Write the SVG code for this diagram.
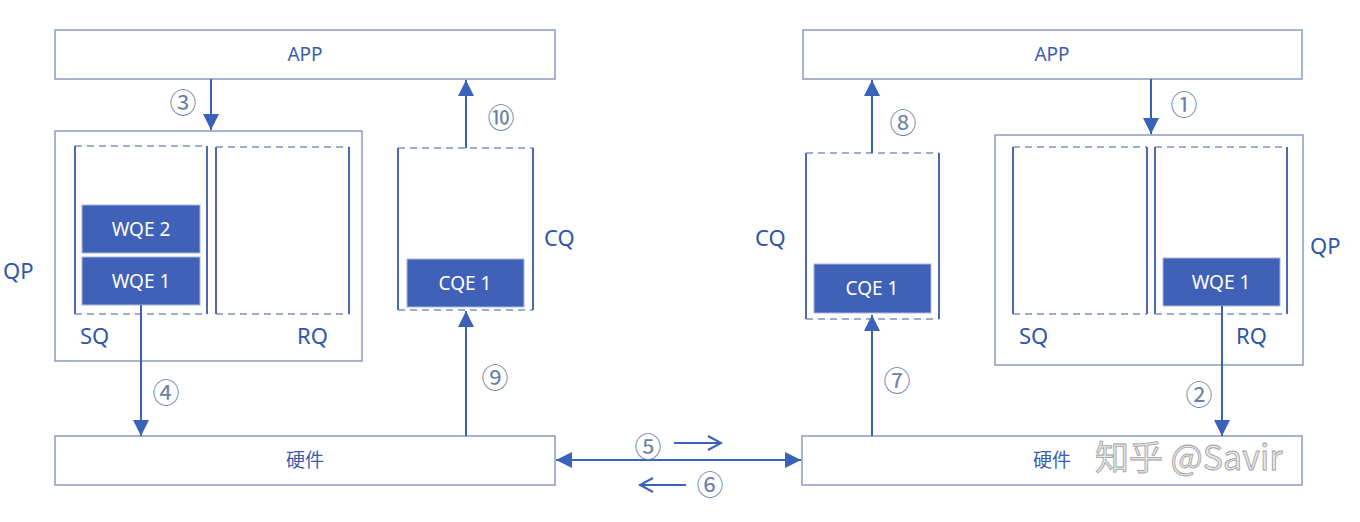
<svg xmlns="http://www.w3.org/2000/svg" width="1360" height="522" viewBox="0 0 1360 522">
<style>
.box{fill:#fff;stroke:#8a9cc2;stroke-width:1.5}
.side{stroke:#4a6bb3;stroke-width:2;fill:none}
.dash{stroke:#7f93c0;stroke-width:1.6;stroke-dasharray:7 5;fill:none}
.fill{fill:#3f62b8;stroke:#a9b8dc;stroke-width:1}
.ft{fill:#fff;font-family:"Noto Sans","Noto Sans CJK SC",sans-serif;font-size:19px;text-anchor:middle}
.lbl{fill:#2f56a8;font-family:"Noto Sans","Noto Sans CJK SC",sans-serif;font-size:22px}
.bt{fill:#3b5eae;font-family:"Noto Sans","Noto Sans CJK SC",sans-serif;font-size:19px;text-anchor:middle}
.num{fill:#6d80a8;font-family:"Noto Sans CJK SC","DejaVu Sans",sans-serif;font-size:27px;text-anchor:middle}
.ln{stroke:#3a62b8;stroke-width:2;fill:none}
.wm{font-family:"Noto Sans CJK SC","Noto Sans",sans-serif;font-size:34px;fill:#e6e6e6;stroke:#a0a0a0;stroke-width:0.8}
</style>
<defs>
<marker id="ah2" viewBox="0 0 10 10" refX="10" refY="5" markerWidth="16" markerHeight="16" orient="auto-start-reverse" markerUnits="userSpaceOnUse">
<path d="M0,0 L10,5 L0,10 z" fill="#3a62b8"/>
</marker>
</defs>

<g id="app-left"><rect class="box" x="55" y="30" width="500" height="49"/><text class="bt" x="305" y="61">APP</text></g>
<g id="app-right"><rect class="box" x="803" y="30" width="499" height="49"/><text class="bt" x="1052" y="61">APP</text></g>
<g id="hw-left"><rect class="box" x="55" y="436" width="500" height="49"/><text class="bt" x="305" y="467">硬件</text></g>
<g id="hw-right"><rect class="box" x="802" y="436" width="500" height="49"/><text class="bt" x="1052" y="467">硬件</text></g>

<g id="qp-left">
<rect class="box" x="55" y="131" width="307" height="230"/>
<text class="lbl" x="3" y="279">QP</text>
<g id="sq-left">
<path class="dash" d="M75,146 H207 M75,314 H207"/>
<path class="side" d="M75,146 V314 M207,146 V314"/>
<text class="lbl" x="80" y="344">SQ</text>
</g>
<g id="wqe2-left"><rect class="fill" x="82" y="205" width="118" height="48"/><text class="ft" x="141" y="236">WQE 2</text></g>
<g id="wqe1-left"><rect class="fill" x="82" y="257" width="118" height="48"/><text class="ft" x="141" y="288">WQE 1</text></g>
<g id="rq-left">
<path class="dash" d="M216,147 H349 M216,314 H349"/>
<path class="side" d="M216,147 V314 M349,147 V314"/>
<text class="lbl" x="297" y="344">RQ</text>
</g>
</g>

<g id="cq-left">
<path class="dash" d="M398,148 H533 M398,310 H533"/>
<path class="side" d="M398,148 V310 M533,148 V310"/>
<text class="lbl" x="544" y="246">CQ</text>
<g id="cqe1-left"><rect class="fill" x="407" y="259" width="117" height="48"/><text class="ft" x="465" y="290">CQE 1</text></g>
</g>

<g id="cq-right">
<path class="dash" d="M806,153 H939 M806,319 H939"/>
<path class="side" d="M806,153 V319 M939,153 V319"/>
<text class="lbl" x="755" y="246">CQ</text>
<g id="cqe1-right"><rect class="fill" x="814" y="264" width="117" height="49"/><text class="ft" x="872" y="295">CQE 1</text></g>
</g>

<g id="qp-right">
<rect class="box" x="995" y="135" width="308" height="230"/>
<text class="lbl" x="1310" y="254">QP</text>
<g id="sq-right">
<path class="dash" d="M1013,147 H1147 M1013,314 H1147"/>
<path class="side" d="M1013,147 V314 M1147,147 V314"/>
<text class="lbl" x="1019" y="344">SQ</text>
</g>
<g id="rq-right">
<path class="dash" d="M1155,147 H1287 M1155,314 H1287"/>
<path class="side" d="M1155,147 V314 M1287,147 V314"/>
<text class="lbl" x="1236" y="344">RQ</text>
</g>
<g id="wqe1-right"><rect class="fill" x="1163" y="258" width="117" height="48"/><text class="ft" x="1221" y="289">WQE 1</text></g>
</g>

<g id="connectors">
<line class="ln" x1="211" y1="79" x2="211" y2="130" marker-end="url(#ah2)"/>
<line class="ln" x1="141" y1="305" x2="141" y2="436" marker-end="url(#ah2)"/>
<line class="ln" x1="466" y1="148" x2="466" y2="80" marker-end="url(#ah2)"/>
<line class="ln" x1="466" y1="436" x2="466" y2="311" marker-end="url(#ah2)"/>
<line class="ln" x1="872" y1="153" x2="872" y2="80" marker-end="url(#ah2)"/>
<line class="ln" x1="872" y1="436" x2="872" y2="315" marker-end="url(#ah2)"/>
<line class="ln" x1="1151" y1="79" x2="1151" y2="134" marker-end="url(#ah2)"/>
<line class="ln" x1="1222" y1="306" x2="1222" y2="436" marker-end="url(#ah2)"/>
<line class="ln" x1="556" y1="460" x2="801" y2="460" marker-start="url(#ah2)" marker-end="url(#ah2)"/>
<path class="ln" d="M674,443 H721 M708,436 L721,443 L708,450"/>
<path class="ln" d="M686,485 H640 M653,478 L640,485 L653,492"/>
</g>

<g id="step-labels">
<text class="num" x="183" y="113">③</text>
<text class="num" x="166" y="403">④</text>
<text class="num" x="501" y="128">⑩</text>
<text class="num" x="495" y="388">⑨</text>
<text class="num" x="903" y="133">⑧</text>
<text class="num" x="897" y="391">⑦</text>
<text class="num" x="1184" y="115">①</text>
<text class="num" x="1199" y="405">②</text>
<text class="num" x="648" y="457">⑤</text>
<text class="num" x="710" y="495">⑥</text>
</g>

<text class="wm" x="1095" y="470">知乎 @Savir</text>
</svg>
